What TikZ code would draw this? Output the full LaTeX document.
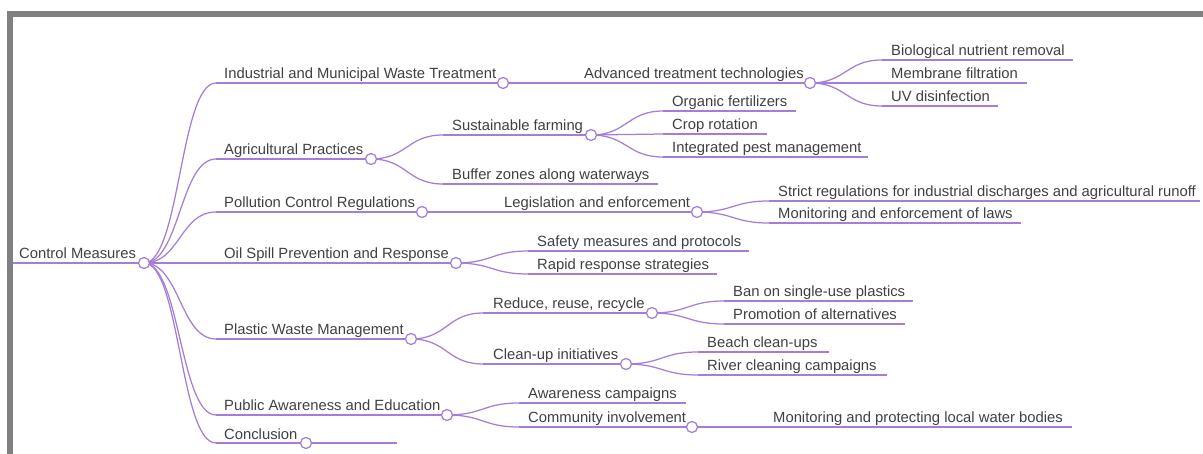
\documentclass[tikz,border=0pt]{standalone}
\usepackage{fontspec}
\setmainfont{Liberation Sans}
\usepackage{tikz}

\definecolor{branchcol}{RGB}{164,126,214}
\definecolor{textcol}{RGB}{64,64,64}
\definecolor{framecol}{RGB}{128,128,128}

\begin{document}
\begin{tikzpicture}[x=1pt,y=-1pt,
    branch/.style={draw=branchcol,line width=1.25pt},
    knob/.style={circle,draw=branchcol,fill=white,line width=1.25pt,minimum size=11pt,inner sep=0pt},
    topic/.style={anchor=base west,inner sep=0pt,text=textcol,font=\fontsize{14.8}{16}\selectfont}]
       \useasboundingbox (0,0) rectangle (1203,454);
       % frame
       \fill[framecol] (7,11) rectangle (1203,17);
       \fill[framecol] (7,11) rectangle (13,454);

       % circles (centres) and line starts
       \coordinate (cm) at (144,263);
       \coordinate (cms) at (13,263);
       \coordinate (iw) at (503,83);   \coordinate (iws) at (216,83);
       \coordinate (ap) at (371,159);  \coordinate (aps) at (216,159);
       \coordinate (pc) at (422,212);  \coordinate (pcs) at (216,212);
       \coordinate (os) at (456,263);  \coordinate (oss) at (216,263);
       \coordinate (pw) at (411,339);  \coordinate (pws) at (216,339);
       \coordinate (pa) at (447,415);  \coordinate (pas) at (216,415);
       \coordinate (cn) at (306,443);  \coordinate (cns) at (216,443);

       \coordinate (at) at (810,83);   \coordinate (ats) at (575,83);
       \coordinate (sf) at (591,135);  \coordinate (sfs) at (443,135);
       \coordinate (bzs) at (443,184); \coordinate (bze) at (658,184);
       \coordinate (le) at (697,212);  \coordinate (les) at (494,212);
       \coordinate (sms) at (528,251); \coordinate (sme) at (749,251);
       \coordinate (rrs) at (528,274); \coordinate (rre) at (717,274);
       \coordinate (rc) at (652,313);  \coordinate (rcs) at (483,313);
       \coordinate (ci) at (626,364);  \coordinate (cis) at (483,364);
       \coordinate (acs) at (519,403); \coordinate (ace) at (686,403);
       \coordinate (cv) at (692,427);  \coordinate (cvs) at (519,427);
       \coordinate (ems) at (378,443); \coordinate (eme) at (397,443);

       \coordinate (bns) at (882,60);  \coordinate (bne) at (1073,60);
       \coordinate (mfs) at (882,83);  \coordinate (mfe) at (1027,83);
       \coordinate (uvs) at (882,106); \coordinate (uve) at (998,106);
       \coordinate (ofs) at (663,111); \coordinate (ofe) at (796,111);
       \coordinate (crs) at (663,134); \coordinate (cre) at (767,134);
       \coordinate (ips) at (663,157); \coordinate (ipe) at (868,157);
       \coordinate (srs) at (769,201); \coordinate (sre) at (1200,201);
       \coordinate (mes) at (769,223); \coordinate (mee) at (1021,223);
       \coordinate (bss) at (724,301); \coordinate (bse) at (913,301);
       \coordinate (pps) at (724,324); \coordinate (ppe) at (905,324);
       \coordinate (bcs) at (698,352); \coordinate (bce) at (829,352);
       \coordinate (rvs) at (698,375); \coordinate (rve) at (887,375);
       \coordinate (mps) at (764,427); \coordinate (mpe) at (1072,427);

       % underlines
       \draw[branch] (cms) -- (cm);
       \draw[branch] (iws) -- (iw);
       \draw[branch] (aps) -- (ap);
       \draw[branch] (pcs) -- (pc);
       \draw[branch] (oss) -- (os);
       \draw[branch] (pws) -- (pw);
       \draw[branch] (pas) -- (pa);
       \draw[branch] (cns) -- (cn);
       \draw[branch] (ats) -- (at);
       \draw[branch] (sfs) -- (sf);
       \draw[branch] (bzs) -- (bze);
       \draw[branch] (les) -- (le);
       \draw[branch] (sms) -- (sme);
       \draw[branch] (rrs) -- (rre);
       \draw[branch] (rcs) -- (rc);
       \draw[branch] (cis) -- (ci);
       \draw[branch] (acs) -- (ace);
       \draw[branch] (cvs) -- (cv);
       \draw[branch] (ems) -- (eme);
       \draw[branch] (bns) -- (bne);
       \draw[branch] (mfs) -- (mfe);
       \draw[branch] (uvs) -- (uve);
       \draw[branch] (ofs) -- (ofe);
       \draw[branch] (crs) -- (cre);
       \draw[branch] (ips) -- (ipe);
       \draw[branch] (srs) -- (sre);
       \draw[branch] (mes) -- (mee);
       \draw[branch] (bss) -- (bse);
       \draw[branch] (pps) -- (ppe);
       \draw[branch] (bcs) -- (bce);
       \draw[branch] (rvs) -- (rve);
       \draw[branch] (mps) -- (mpe);

       % links from parent to child
       \foreach \a/\b in {cm/iws,cm/aps,cm/pcs,cm/oss,cm/pws,cm/pas,cm/cns,
                          iw/ats,ap/sfs,ap/bzs,pc/les,os/sms,os/rrs,pw/rcs,pw/cis,
                          pa/acs,pa/cvs,cn/ems,
                          at/bns,at/mfs,at/uvs,sf/ofs,sf/crs,sf/ips,le/srs,le/mes,
                          rc/bss,rc/pps,ci/bcs,ci/rvs,cv/mps}
         \draw[branch] (\a) .. controls +(36,0) and +(-36,0) .. (\b);

       % knobs
       \foreach \k in {cm,iw,ap,pc,os,pw,pa,cn,at,sf,le,rc,ci,cv}
         \node[knob] at (\k) {};

       % texts
       \node[topic] (tcm) at (19,259) {Control Measures};
       \node[topic] (tiw) at (224,79) {Industrial and Municipal Waste Treatment};
       \node[topic] (tap) at (224,155) {Agricultural Practices};
       \node[topic] (tpc) at (224,208) {Pollution Control Regulations};
       \node[topic] (tos) at (224,259) {Oil Spill Prevention and Response};
       \node[topic] (tpw) at (224,335) {Plastic Waste Management};
       \node[topic] (tpa) at (224,411) {Public Awareness and Education};
       \node[topic] (tcn) at (224,439) {Conclusion};

       \node[topic] (tat) at (584,79) {Advanced treatment technologies};
       \node[topic] (tsf) at (452,131) {Sustainable farming};
       \node[topic] (tbz) at (452,180) {Buffer zones along waterways};
       \node[topic] (tle) at (504,208) {Legislation and enforcement};
       \node[topic] (tsm) at (537,247) {Safety measures and protocols};
       \node[topic] (trr) at (537,270) {Rapid response strategies};
       \node[topic] (trc) at (493,309) {Reduce, reuse, recycle};
       \node[topic] (tci) at (493,360) {Clean-up initiatives};
       \node[topic] (tac) at (528,399) {Awareness campaigns};
       \node[topic] (tcv) at (528,423) {Community involvement};

       \node[topic] (tbn) at (891,56) {Biological nutrient removal};
       \node[topic] (tmf) at (891,79) {Membrane filtration};
       \node[topic] (tuv) at (891,102) {UV disinfection};
       \node[topic] (tof) at (672,107) {Organic fertilizers};
       \node[topic] (tcr) at (672,130) {Crop rotation};
       \node[topic] (tip) at (672,153) {Integrated pest management};
       \node[topic] (tsr) at (778,197) {Strict regulations for industrial discharges and agricultural runoff};
       \node[topic] (tme) at (778,219) {Monitoring and enforcement of laws};
       \node[topic] (tbs) at (733,297) {Ban on single-use plastics};
       \node[topic] (tpp) at (733,320) {Promotion of alternatives};
       \node[topic] (tbc) at (707,348) {Beach clean-ups};
       \node[topic] (trv) at (707,371) {River cleaning campaigns};
       \node[topic] (tmp) at (773,423) {Monitoring and protecting local water bodies};
     \end{tikzpicture}
\end{document}
